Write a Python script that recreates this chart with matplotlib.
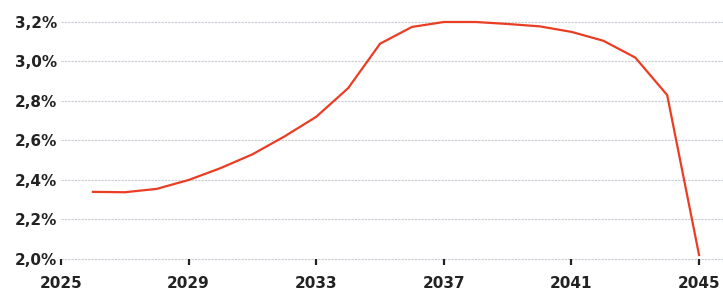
import matplotlib
matplotlib.use('Agg')
import matplotlib.pyplot as plt

years = [2026, 2027, 2028, 2029, 2030, 2031, 2032, 2033, 2034, 2035, 2036,
         2037, 2038, 2039, 2040, 2041, 2042, 2043, 2044, 2045]
rate = [2.34, 2.338, 2.355, 2.40, 2.46, 2.53, 2.62, 2.72, 2.865, 3.09, 3.175,
        3.20, 3.20, 3.19, 3.178, 3.15, 3.105, 3.02, 2.83, 2.02]

xticks = [2025, 2029, 2033, 2037, 2041, 2045]
yticks = [2.0, 2.2, 2.4, 2.6, 2.8, 3.0, 3.2]

fig = plt.figure(figsize=(7.23, 2.93), dpi=100)
ax = fig.add_axes([61 / 723, 34 / 293, 1 - 61 / 723, (293 - 34 - 2.25) / 293])

for y in yticks:
    ax.axhline(y, color='#c8cad4', lw=0.8, ls=(0, (2, 1)), zorder=1, clip_on=False)

ax.plot(years, rate, color='#ea3d24', lw=1.6, zorder=3)

ax.set_xlim(2025, 2045.75)
ax.set_ylim(2.0, 3.3)
ax.set_xticks(xticks)
ax.set_xticklabels([str(x) for x in xticks])
ax.set_yticks(yticks)
ax.set_yticklabels([("%.1f%%" % v).replace('.', ',') for v in yticks])

for s in ax.spines.values():
    s.set_visible(False)

ax.tick_params(axis='x', length=4, width=1.6, color='#222222', pad=8,
               labelsize=11, labelcolor='#222222')
ax.tick_params(axis='y', length=0, pad=3, labelsize=11, labelcolor='#222222')
for lab in ax.get_xticklabels() + ax.get_yticklabels():
    lab.set_fontweight('bold')

fig.savefig('out.png', dpi=100)
